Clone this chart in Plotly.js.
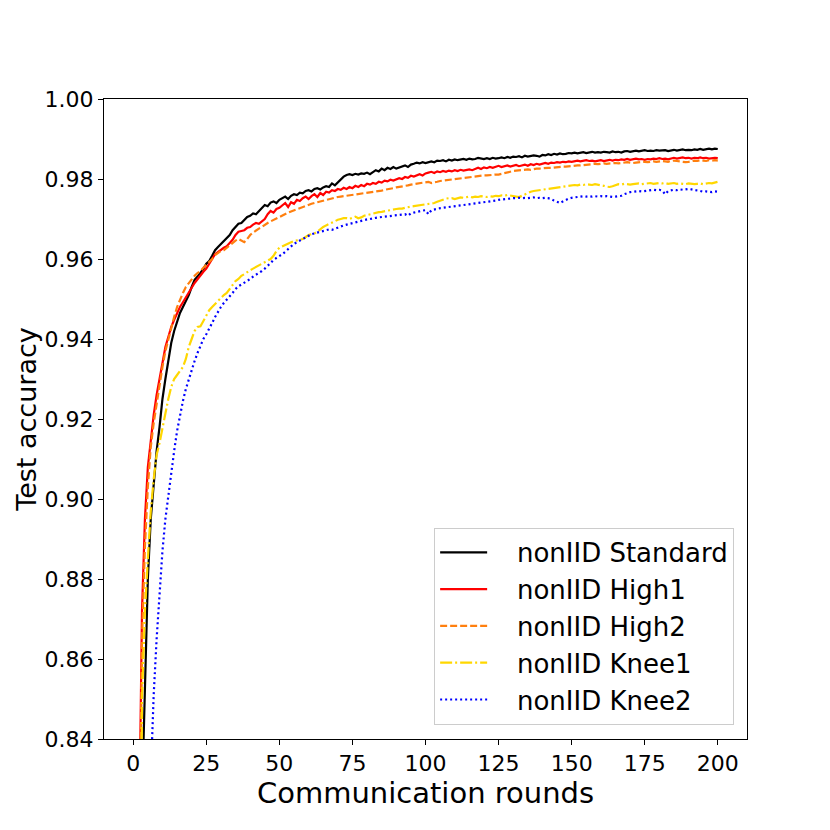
<!DOCTYPE html>
<html>
<head>
<meta charset="utf-8">
<script src="https://cdn.plot.ly/plotly-3.0.1.min.js"></script>
<style>html,body{margin:0;padding:0;background:#fff;}#chart{width:830px;height:830px;}</style>
</head>
<body>
<div id="chart"></div>
<script>
// Communication rounds 1..200
const rounds = Array.from({length: 200}, (_, i) => i + 1);

const seriesNames = ["nonIID Standard", "nonIID High1", "nonIID High2", "nonIID Knee1", "nonIID Knee2"];

const standard = [
0.40,0.70,0.825,0.855,0.880,0.895,0.904,0.912,0.918,0.925,
0.930,0.935,0.939,0.942,0.9445,0.9465,0.948,0.9495,0.951,0.953,
0.9548,0.9556,0.9565,0.9575,0.9588,0.9595,0.9608,0.9622,0.9630,0.9638,
0.9645,0.9652,0.9660,0.9672,0.9680,0.9688,0.9690,0.9698,0.9705,0.9708,
0.9714,0.9712,0.9720,0.9726,0.9735,0.9732,0.9741,0.9744,0.9740,0.9748,
0.9752,0.9756,0.9750,0.9758,0.9762,0.9760,0.9766,0.9764,0.9770,0.9772,
0.9769,0.9775,0.9777,0.9774,0.9779,0.9782,0.9780,0.9789,0.9784,0.9792,
0.9800,0.9806,0.9810,0.9812,0.9810,0.9813,0.9811,0.9814,0.9813,0.9816,
0.9812,0.9818,0.9822,0.9819,0.9826,0.9822,0.9828,0.9825,0.9830,0.9826,
0.9829,0.9832,0.9834,0.9830,0.9836,0.9838,0.9841,0.9839,0.9842,0.9840,
0.9843,0.9844,0.9842,0.9846,0.9845,0.9847,0.9844,0.9848,0.9846,0.9849,
0.9847,0.9849,0.9850,0.9848,0.9851,0.9849,0.9850,0.9853,0.9851,0.9850,
0.9852,0.9850,0.9853,0.9851,0.9852,0.9854,0.9852,0.9855,0.9853,0.9856,
0.9855,0.9857,0.9854,0.9858,0.9856,0.9857,0.9859,0.9858,0.9856,0.9860,
0.9859,0.9862,0.9860,0.9863,0.9861,0.9864,0.9862,0.9863,0.9865,0.9864,
0.9866,0.9864,0.9866,0.9867,0.9865,0.9866,0.9868,0.9866,0.9867,0.9866,
0.9868,0.9867,0.9866,0.9869,0.9867,0.9868,0.9866,0.9869,0.9870,0.9868,
0.9870,0.9871,0.9869,0.9870,0.9872,0.9870,0.9871,0.9870,0.9872,0.9871,
0.9871,0.9872,0.9870,0.9871,0.9873,0.9871,0.9872,0.9874,0.9872,0.9873,
0.9872,0.9874,0.9873,0.9875,0.9873,0.9874,0.9876,0.9874,0.9876,0.9875
];

const high1 = [
0.45,0.815,0.872,0.895,0.908,0.915,0.921,0.926,0.930,0.934,
0.938,0.9405,0.943,0.9448,0.9465,0.948,0.9492,0.9505,0.9515,0.9528,
0.9540,0.9550,0.9558,0.9568,0.9576,0.9590,0.9600,0.9612,0.9618,0.9622,
0.9628,0.9632,0.9640,0.9648,0.9660,0.9668,0.9670,0.9672,0.9678,0.9680,
0.9686,0.9690,0.9688,0.9694,0.9700,0.9712,0.9720,0.9716,0.9725,0.9728,
0.9735,0.9740,0.9730,0.9742,0.9738,0.9748,0.9745,0.9752,0.9756,0.9750,
0.9757,0.9762,0.9755,0.9765,0.9760,0.9768,0.9766,0.9772,0.9770,0.9775,
0.9773,0.9778,0.9775,0.9780,0.9777,0.9783,0.9780,0.9785,0.9782,0.9788,
0.9786,0.9790,0.9788,0.9793,0.9791,0.9796,0.9794,0.9798,0.9796,0.9800,
0.9802,0.9800,0.9805,0.9803,0.9808,0.9806,0.9810,0.9812,0.9809,0.9814,
0.9816,0.9818,0.9815,0.9819,0.9817,0.9820,0.9818,0.9821,0.9819,0.9822,
0.9820,0.9823,0.9821,0.9822,0.9824,0.9822,0.9826,0.9828,0.9825,0.9829,
0.9827,0.9830,0.9828,0.9831,0.9833,0.9830,0.9832,0.9834,0.9831,0.9833,
0.9835,0.9832,0.9834,0.9836,0.9833,0.9837,0.9835,0.9838,0.9836,0.9839,
0.9840,0.9838,0.9841,0.9840,0.9842,0.9841,0.9843,0.9842,0.9844,0.9843,
0.9844,0.9846,0.9844,0.9845,0.9847,0.9845,0.9846,0.9844,0.9846,0.9847,
0.9845,0.9847,0.9848,0.9846,0.9848,0.9847,0.9849,0.9848,0.9850,0.9848,
0.9849,0.9851,0.9849,0.9850,0.9848,0.9850,0.9849,0.9851,0.9850,0.9852,
0.9850,0.9851,0.9849,0.9851,0.9853,0.9851,0.9852,0.9854,0.9852,0.9853,
0.9851,0.9853,0.9852,0.9854,0.9852,0.9853,0.9851,0.9852,0.9853,0.9852
];

const high2 = [
0.42,0.80,0.865,0.888,0.903,0.913,0.919,0.924,0.929,0.933,
0.937,0.940,0.943,0.9455,0.948,0.950,0.9515,0.953,0.954,0.955,
0.9558,0.9565,0.9570,0.9578,0.9585,0.9592,0.9600,0.9610,0.9615,0.9620,
0.9622,0.9628,0.9635,0.9640,0.9646,0.9650,0.9645,0.9642,0.9650,0.9660,
0.9666,0.9672,0.9676,0.9680,0.9686,0.9690,0.9694,0.9698,0.9702,0.9706,
0.9710,0.9714,0.9716,0.9719,0.9722,0.9725,0.9728,0.9730,0.9734,0.9736,
0.9738,0.9740,0.9742,0.9744,0.9746,0.9748,0.9750,0.9752,0.9753,0.9755,
0.9756,0.9757,0.9758,0.9759,0.9760,0.9761,0.9762,0.9763,0.9764,0.9765,
0.9766,0.9767,0.9768,0.9770,0.9771,0.9773,0.9774,0.9776,0.9777,0.9779,
0.9780,0.9781,0.9783,0.9784,0.9786,0.9787,0.9789,0.9790,0.9791,0.9792,
0.9793,0.9790,0.9791,0.9793,0.9795,0.9796,0.9797,0.9798,0.9799,0.9800,
0.9800,0.9801,0.9802,0.9803,0.9804,0.9805,0.9806,0.9807,0.9808,0.9809,
0.9809,0.9810,0.9810,0.9811,0.9811,0.9813,0.9815,0.9817,0.9818,0.9820,
0.9821,0.9822,0.9823,0.9823,0.9824,0.9823,0.9825,0.9826,0.9826,0.9827,
0.9827,0.9828,0.9828,0.9829,0.9830,0.9830,0.9831,0.9831,0.9832,0.9833,
0.9833,0.9834,0.9834,0.9835,0.9836,0.9836,0.9837,0.9838,0.9837,0.9838,
0.9839,0.9838,0.9839,0.9840,0.9840,0.9839,0.9840,0.9841,0.9842,0.9841,
0.9840,0.9841,0.9842,0.9843,0.9843,0.9842,0.9843,0.9844,0.9843,0.9844,
0.9845,0.9844,0.9843,0.9845,0.9846,0.9845,0.9844,0.9843,0.9842,0.9843,
0.9845,0.9846,0.9845,0.9847,0.9846,0.9845,0.9847,0.9846,0.9847,0.9846
];

const knee1 = [
0.35,0.75,0.850,0.872,0.885,0.897,0.905,0.911,0.914,0.918,
0.922,0.925,0.928,0.930,0.931,0.932,0.933,0.935,0.938,0.940,
0.9420,0.9430,0.9432,0.9445,0.9460,0.9472,0.9480,0.9488,0.9495,0.9502,
0.9510,0.9515,0.9525,0.9536,0.9545,0.9550,0.9558,0.9562,0.9568,0.9572,
0.9576,0.9580,0.9584,0.9590,0.9594,0.9597,0.9600,0.9608,0.9620,0.9628,
0.9632,0.9636,0.9639,0.9642,0.9645,0.9646,0.9648,0.9650,0.9655,0.9660,
0.9662,0.9664,0.9668,0.9675,0.9680,0.9684,0.9688,0.9690,0.9695,0.9698,
0.9700,0.9702,0.9702,0.9700,0.9703,0.9706,0.9702,0.9704,0.9708,0.9710,
0.9712,0.9713,0.9715,0.9717,0.9718,0.9720,0.9721,0.9722,0.9724,0.9725,
0.9726,0.9726,0.9728,0.9730,0.9731,0.9732,0.9733,0.9734,0.9735,0.9736,
0.9737,0.9738,0.9740,0.9743,0.9746,0.9749,0.9751,0.9752,0.9752,0.9750,
0.9752,0.9754,0.9753,0.9755,0.9756,0.9754,0.9756,0.9755,0.9757,0.9756,
0.9755,0.9757,0.9756,0.9758,0.9757,0.9759,0.9758,0.9760,0.9759,0.9758,
0.9757,0.9755,0.9758,0.9762,0.9766,0.9768,0.9770,0.9771,0.9772,0.9773,
0.9774,0.9775,0.9776,0.9778,0.9779,0.9780,0.9781,0.9782,0.9783,0.9784,
0.9785,0.9784,0.9786,0.9785,0.9787,0.9786,0.9785,0.9787,0.9786,0.9785,
0.9783,0.9781,0.9780,0.9782,0.9785,0.9787,0.9786,0.9788,0.9787,0.9786,
0.9787,0.9788,0.9789,0.9787,0.9788,0.9789,0.9790,0.9788,0.9789,0.9790,
0.9789,0.9790,0.9788,0.9789,0.9790,0.9788,0.9789,0.9788,0.9787,0.9789,
0.9788,0.9787,0.9788,0.9789,0.9787,0.9788,0.9790,0.9789,0.9791,0.9793
];

const knee2 = [
0.30,0.55,0.70,0.77,0.81,0.833,0.851,0.865,0.877,0.887,
0.895,0.901,0.907,0.912,0.917,0.921,0.9245,0.9275,0.930,0.932,
0.9345,0.9365,0.9385,0.9400,0.9412,0.9425,0.9440,0.9455,0.9468,0.9480,
0.9490,0.9498,0.9505,0.9515,0.9525,0.9532,0.9536,0.9540,0.9545,0.9550,
0.9556,0.9560,0.9565,0.9570,0.9576,0.9582,0.9590,0.9598,0.9602,0.9607,
0.9612,0.9618,0.9625,0.9632,0.9638,0.9642,0.9646,0.9650,0.9655,0.9658,
0.9662,0.9664,0.9666,0.9668,0.9670,0.9672,0.9674,0.9673,0.9676,0.9680,
0.9682,0.9684,0.9686,0.9688,0.9690,0.9692,0.9693,0.9695,0.9697,0.9699,
0.9700,0.9702,0.9703,0.9704,0.9705,0.9706,0.9707,0.9708,0.9709,0.9710,
0.9711,0.9712,0.9712,0.9708,0.9714,0.9716,0.9718,0.9719,0.9721,0.9722,
0.9712,0.9722,0.9724,0.9725,0.9727,0.9728,0.9729,0.9730,0.9731,0.9732,
0.9733,0.9734,0.9735,0.9735,0.9736,0.9737,0.9738,0.9739,0.9740,0.9741,
0.9742,0.9743,0.9744,0.9746,0.9748,0.9749,0.9750,0.9751,0.9752,0.9752,
0.9752,0.9753,0.9752,0.9753,0.9752,0.9753,0.9754,0.9752,0.9753,0.9752,
0.9753,0.9752,0.9750,0.9746,0.9742,0.9740,0.9744,0.9748,0.9751,0.9753,
0.9754,0.9755,0.9756,0.9757,0.9756,0.9757,0.9756,0.9757,0.9756,0.9757,
0.9756,0.9757,0.9756,0.9755,0.9756,0.9757,0.9758,0.9762,0.9765,0.9767,
0.9768,0.9769,0.9770,0.9769,0.9770,0.9771,0.9772,0.9773,0.9772,0.9773,
0.9771,0.9762,0.9770,0.9772,0.9773,0.9772,0.9774,0.9773,0.9774,0.9775,
0.9774,0.9773,0.9772,0.9770,0.9768,0.9769,0.9768,0.9767,0.9769,0.9768
];

const xTicks = [0, 25, 50, 75, 100, 125, 150, 175, 200];
const yTicks = [0.84, 0.86, 0.88, 0.90, 0.92, 0.94, 0.96, 0.98, 1.00];

const values = [standard, high1, high2, knee1, knee2];
const colors = ["#000000", "#ff0000", "#ff7f0e", "#ffd700", "#0000ff"];
const dashes = ["solid", "solid", "7px,3px", "12px,3px,2px,3px", "2px,3px"];

// leading no-break spaces only widen the gap between legend sample and label
const legendPad = "\u00A0\u00A0\u00A0";

const traces = values.map((v, i) => ({
  x: rounds,
  y: v,
  type: "scatter",
  mode: "lines",
  name: legendPad + seriesNames[i],
  line: {color: colors[i], width: 2.2, dash: dashes[i]},
  hoverinfo: "skip"
}));

const font = "DejaVu Sans, Liberation Sans, sans-serif";

const layout = {
  width: 830,
  height: 830,
  margin: {l: 104, r: 83, t: 99, b: 91},
  paper_bgcolor: "#ffffff",
  plot_bgcolor: "#ffffff",
  font: {family: font, color: "#000000", size: 22},
  showlegend: true,
  legend: {
    x: 0.98, y: 0.022, xanchor: "right", yanchor: "bottom",
    bgcolor: "rgba(255,255,255,0.8)",
    bordercolor: "#cccccc", borderwidth: 1,
    font: {family: font, size: 26, color: "#000000"},
    itemwidth: 47
  },
  xaxis: {
    range: [-10, 210],
    tickvals: xTicks,
    ticktext: xTicks.map(String),
    showgrid: false, zeroline: false,
    showline: true, linecolor: "#000000", linewidth: 1, mirror: true,
    ticks: "outside", ticklen: 5, tickwidth: 1, tickcolor: "#000000",
    tickfont: {family: font, size: 22, color: "#000000"},
    title: {text: "Communication rounds", font: {family: font, size: 29, color: "#000000"}, standoff: 0}
  },
  yaxis: {
    range: [0.84, 1.00],
    tickvals: yTicks,
    ticktext: yTicks.map(v => v.toFixed(2)),
    showgrid: false, zeroline: false,
    showline: true, linecolor: "#000000", linewidth: 1, mirror: true,
    ticks: "outside", ticklen: 5, tickwidth: 1, tickcolor: "#000000",
    tickfont: {family: font, size: 22, color: "#000000"},
    title: {text: "Test accuracy", font: {family: font, size: 27, color: "#000000"}, standoff: 0}
  }
};

Plotly.newPlot("chart", traces, layout, {displayModeBar: false, staticPlot: true});
</script>
</body>
</html>
